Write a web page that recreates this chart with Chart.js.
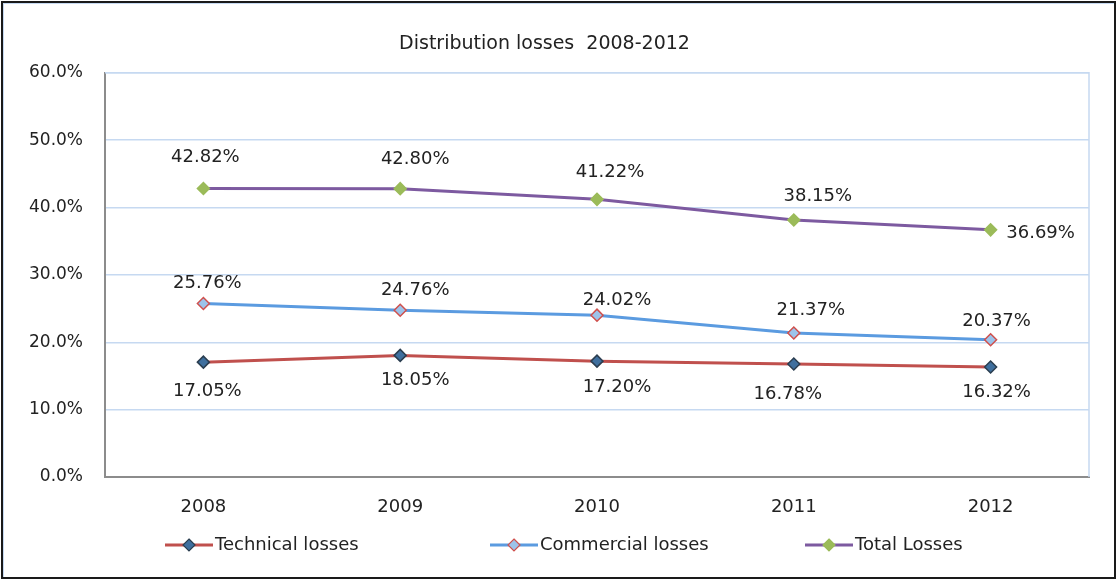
<!DOCTYPE html>
<html>
<head>
<meta charset="utf-8">
<script src="https://cdn.jsdelivr.net/npm/chart.js@4.4.0/dist/chart.umd.min.js"></script>
<style>
  body { margin: 0; background: #fff; }
  #wrap { position: relative; width: 1117px; height: 580px; }
  #frame { position: absolute; left: 1px; top: 1px; width: 1111px; height: 574px; border: 2px solid #1a1a1a; box-shadow: inset 1px 1px 0 #c6d9f1; }
</style>
</head>
<body>
<div id="wrap">
  <canvas id="lossChart" width="1117" height="580"></canvas>
  <div id="frame"></div>
</div>
<script>
// dados do gráfico
const years = ['2008', '2009', '2010', '2011', '2012'];
const technicalLosses = [17.05, 18.05, 17.20, 16.78, 16.32];
const commercialLosses = [25.76, 24.76, 24.02, 21.37, 20.37];
const totalLosses = [42.82, 42.80, 41.22, 38.15, 36.69];
const yTicks = [0, 10, 20, 30, 40, 50, 60];

const seriesNames = ['Technical losses', 'Commercial losses', 'Total Losses'];
const lineColors = ['#c0504d', '#5b9be0', '#7d5aa0'];
const markerFill = ['#3f6f9e', '#9cc3ea', '#9bbb59'];
const markerBorder = ['#2b3e50', '#d0504d', '#9bbb59'];

const fontFamily = '"DejaVu Sans", Verdana, sans-serif';
const textColor = '#222222';

// deslocamento dos rótulos (dx, dy) em pixels
const labelOffsets = [
  [[4, 29], [15, 25], [20, 26], [-6, 30], [6, 25]],
  [[4, -20], [15, -20], [20, -15], [17, -23], [6, -18]],
  [[2, -31], [15, -29], [13, -27], [24, -24], [50, 3]]
];

const dataLabels = {
  id: 'dataLabels',
  afterDatasetsDraw(chart) {
    const ctx = chart.ctx;
    ctx.save();
    ctx.font = '18px ' + fontFamily;
    ctx.fillStyle = textColor;
    ctx.textAlign = 'center';
    ctx.textBaseline = 'middle';
    chart.data.datasets.forEach((ds, i) => {
      chart.getDatasetMeta(i).data.forEach((pt, j) => {
        const off = labelOffsets[i][j];
        ctx.fillText(ds.data[j].toFixed(2) + '%', pt.x + off[0], pt.y + off[1]);
      });
    });
    ctx.restore();
  }
};

const legendX = [165, 490, 805];
const customLegend = {
  id: 'customLegend',
  afterDraw(chart) {
    const ctx = chart.ctx;
    const y = 545;
    ctx.save();
    ctx.font = '18px ' + fontFamily;
    ctx.textBaseline = 'middle';
    seriesNames.forEach((name, i) => {
      const x = legendX[i];
      ctx.strokeStyle = lineColors[i];
      ctx.lineWidth = 3;
      ctx.beginPath();
      ctx.moveTo(x, y);
      ctx.lineTo(x + 48, y);
      ctx.stroke();
      ctx.beginPath();
      ctx.moveTo(x + 24, y - 6);
      ctx.lineTo(x + 30, y);
      ctx.lineTo(x + 24, y + 6);
      ctx.lineTo(x + 18, y);
      ctx.closePath();
      ctx.fillStyle = markerFill[i];
      ctx.fill();
      ctx.lineWidth = 1.2;
      ctx.strokeStyle = markerBorder[i];
      ctx.stroke();
      ctx.fillStyle = textColor;
      ctx.fillText(name, x + 50, y);
    });
    ctx.restore();
  }
};

const plotFrame = {
  id: 'plotFrame',
  beforeDatasetsDraw(chart) {
    const a = chart.chartArea, c = chart.ctx;
    c.save();
    c.strokeStyle = '#c6d9f1';
    c.lineWidth = 1.5;
    c.beginPath();
    c.moveTo(a.left, a.top);
    c.lineTo(a.right, a.top);
    c.lineTo(a.right, a.bottom);
    c.stroke();
    c.restore();
  }
};

function createLossChart() {
  const ctx = document.getElementById('lossChart').getContext('2d');
  const values = [technicalLosses, commercialLosses, totalLosses];
  new Chart(ctx, {
    type: 'line',
    data: {
      labels: years,
      datasets: values.map((v, i) => ({
        label: seriesNames[i],
        data: v,
        borderColor: lineColors[i],
        borderWidth: 3,
        pointStyle: 'rectRot',
        pointRadius: 6,
        pointBackgroundColor: markerFill[i],
        pointBorderColor: markerBorder[i],
        pointBorderWidth: 1.5,
        tension: 0
      }))
    },
    options: {
      responsive: false,
      animation: false,
      layout: { padding: { left: 0, right: 28, top: 0, bottom: 63 } },
      plugins: {
        legend: { display: false },
        tooltip: { enabled: false },
        title: {
          display: true,
          text: 'Distribution losses  2008-2012',
          color: textColor,
          font: { family: fontFamily, size: 19, weight: 'normal' },
          padding: { top: 33, bottom: 17 }
        }
      },
      scales: {
        x: {
          offset: true,
          afterFit(scale) { scale.height = 40; },
          grid: { display: false, drawTicks: false },
          border: { color: '#8c8c8c', width: 2 },
          ticks: { color: textColor, padding: 20, font: { family: fontFamily, size: 18 } }
        },
        y: {
          min: 0,
          max: 60,
          afterFit(scale) { scale.width = 105; },
          afterBuildTicks(scale) { scale.ticks = yTicks.map(v => ({ value: v })); },
          grid: { color: '#c6d9f1', lineWidth: 1.5, drawTicks: false },
          border: { color: '#8c8c8c', width: 2 },
          ticks: {
            color: textColor,
            padding: 22,
            font: { family: fontFamily, size: 17 },
            callback: v => v.toFixed(1) + '%'
          }
        }
      }
    },
    plugins: [dataLabels, customLegend, plotFrame]
  });
}

createLossChart();
</script>
</body>
</html>
